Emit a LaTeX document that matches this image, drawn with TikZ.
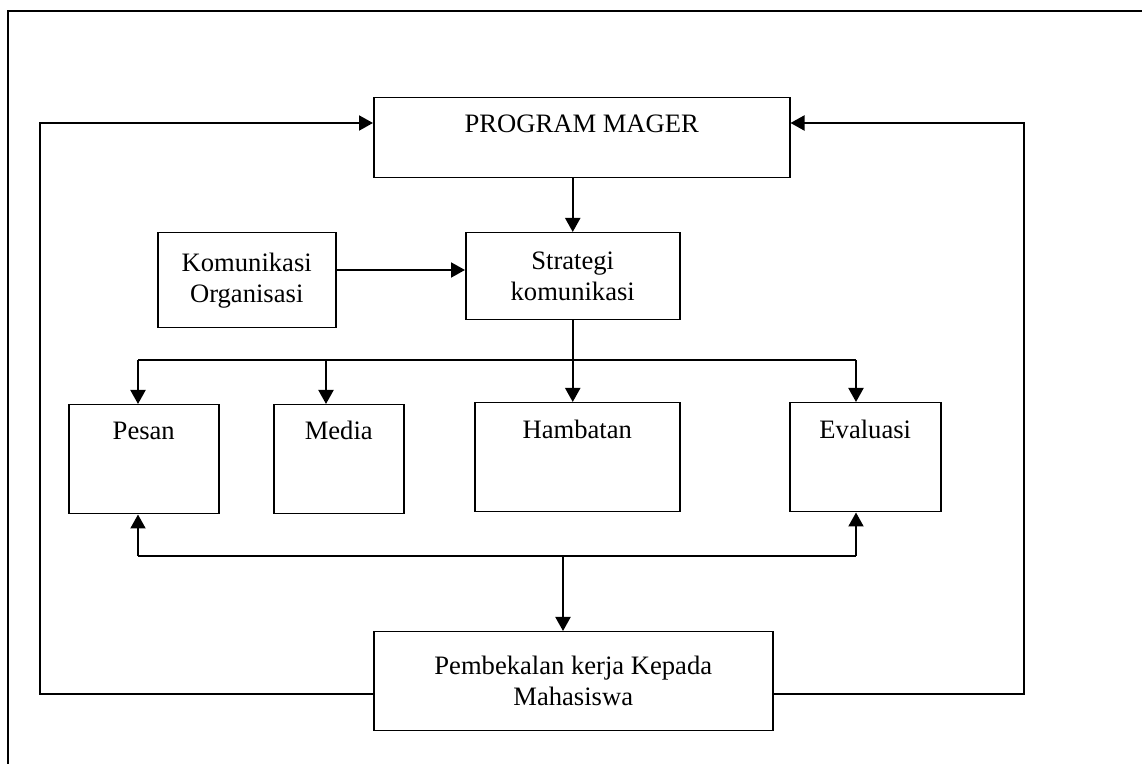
\documentclass[tikz,border=0pt]{standalone}
\usepackage{fontspec}
\setmainfont{Liberation Serif}
\usetikzlibrary{arrows.meta}
\begin{document}
\begin{tikzpicture}[x=0.5pt,y=-0.5pt,
  font=\fontsize{13.3pt}{15.5pt}\selectfont,
  box/.style={draw,line width=0.75pt,inner sep=0pt,anchor=north west,align=center},
  arr/.style={line width=1pt,-{Triangle[length=7pt,width=7.5pt]}},
  ln/.style={line width=0.85pt},
  thin/.style={line width=0.75pt}]
\useasboundingbox (0,0) rectangle (1142,764);
% outer frame
\draw[thin] (1142,11) -- (8,11) -- (8,764);
% boxes
\node[box,minimum width=208pt,text height=17.5pt,text depth=22.5pt] (pm) at (373,97) {PROGRAM MAGER};
\node[box,minimum width=89pt,minimum height=47.5pt] (kom) at (157,232) {Komunikasi\\Organisasi};
\node[box,minimum width=107pt,minimum height=43.5pt] (str) at (465,232) {Strategi\\komunikasi};
\node[box,minimum width=75pt,text height=17.5pt,text depth=37pt] (pes) at (68,404) {Pesan};
\node[box,minimum width=65pt,text height=17.5pt,text depth=37pt] (med) at (273,404) {Media};
\node[box,minimum width=102.5pt,text height=18pt,text depth=36.5pt] (ham) at (474,402) {Hambatan};
\node[box,minimum width=75.5pt,text height=18pt,text depth=36.5pt] (eva) at (789,402) {Evaluasi};
\node[box,minimum width=199.5pt,minimum height=49.5pt] (pem) at (373,631) {Pembekalan kerja Kepada\\Mahasiswa};
% junction coordinates
\coordinate (tl) at (138,360);
\coordinate (tm) at (326,360);
\coordinate (tr) at (856,360);
\coordinate (bl) at (138,556);
\coordinate (bm) at (563,556);
\coordinate (br) at (856,556);
\coordinate (ll) at (40,694);
\coordinate (lt) at (40,123);
\coordinate (rl) at (1024,694);
\coordinate (rt) at (1024,123);
% connectors
\draw[arr] (pm.south -| str.north) -- (str.north);
\draw[arr] (kom.east |- 0,270) -- (str.west |- 0,270);
\draw[arr] (str.south) -- (str.south |- ham.north);
\draw[ln] (tl) -- (tr);
\draw[arr] (tl) -- (tl |- pes.north);
\draw[arr] (tm) -- (tm |- med.north);
\draw[arr] (tr) -- (tr |- eva.north);
\draw[ln] (bl) -- (br);
\draw[arr] (bl) -- (bl |- pes.south);
\draw[arr] (br) -- (br |- eva.south);
\draw[arr] (bm) -- (bm |- pem.north);
\draw[arr,rounded corners=0pt] (pem.west |- ll) -- (ll) -- (lt) -- (pm.west |- lt);
\draw[arr] (pem.east |- rl) -- (rl) -- (rt) -- (pm.east |- rt);
\end{tikzpicture}
\end{document}
